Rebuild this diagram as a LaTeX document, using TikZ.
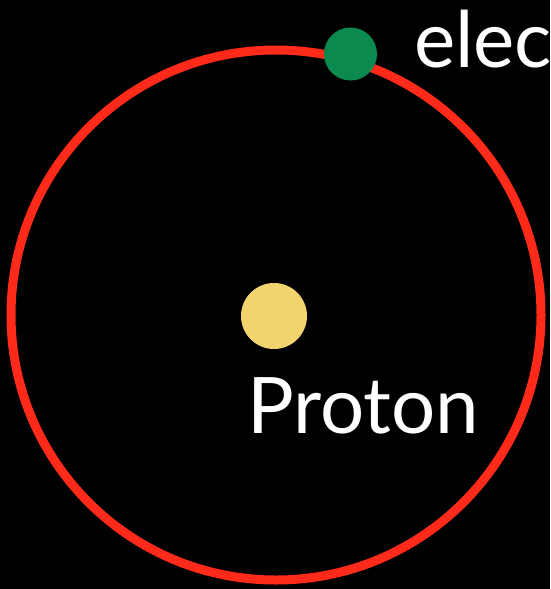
\documentclass[tikz,border=0pt]{standalone}
\usepackage{fontspec}
\setmainfont{Lato}
\definecolor{orbitred}{HTML}{FF2A1A}
\definecolor{protonyellow}{HTML}{F2D46E}
\definecolor{electrongreen}{HTML}{0A8A4E}

\begin{document}
\begin{tikzpicture}[x=1pt, y=-1pt,
  particle/.style={circle, inner sep=0pt, draw=none},
  tag/.style={text=white, inner sep=0pt, anchor=base west,
    font=\fontsize{78}{90}\selectfont}]

  % Hintergrund und Rahmen
  \fill[black] (0, 0) rectangle (550, 589);
  \clip (0, 0) rectangle (550, 589);

  % Bahn des Elektrons
  \draw[orbitred, line width=9pt] (276, 315) circle[radius=265pt];

  % Kern und Elektron
  \node[particle, fill=protonyellow, minimum size=66pt] (proton) at (274, 316) {};
  \node[particle, fill=electrongreen, minimum size=53pt] (electron) at (350.5, 54) {};

  % Beschriftungen
  \node[tag] (protontag) at (247, 433) {Proton};
  \node[tag] (electrontag) at (414, 67) {electron};

\end{tikzpicture}
\end{document}
